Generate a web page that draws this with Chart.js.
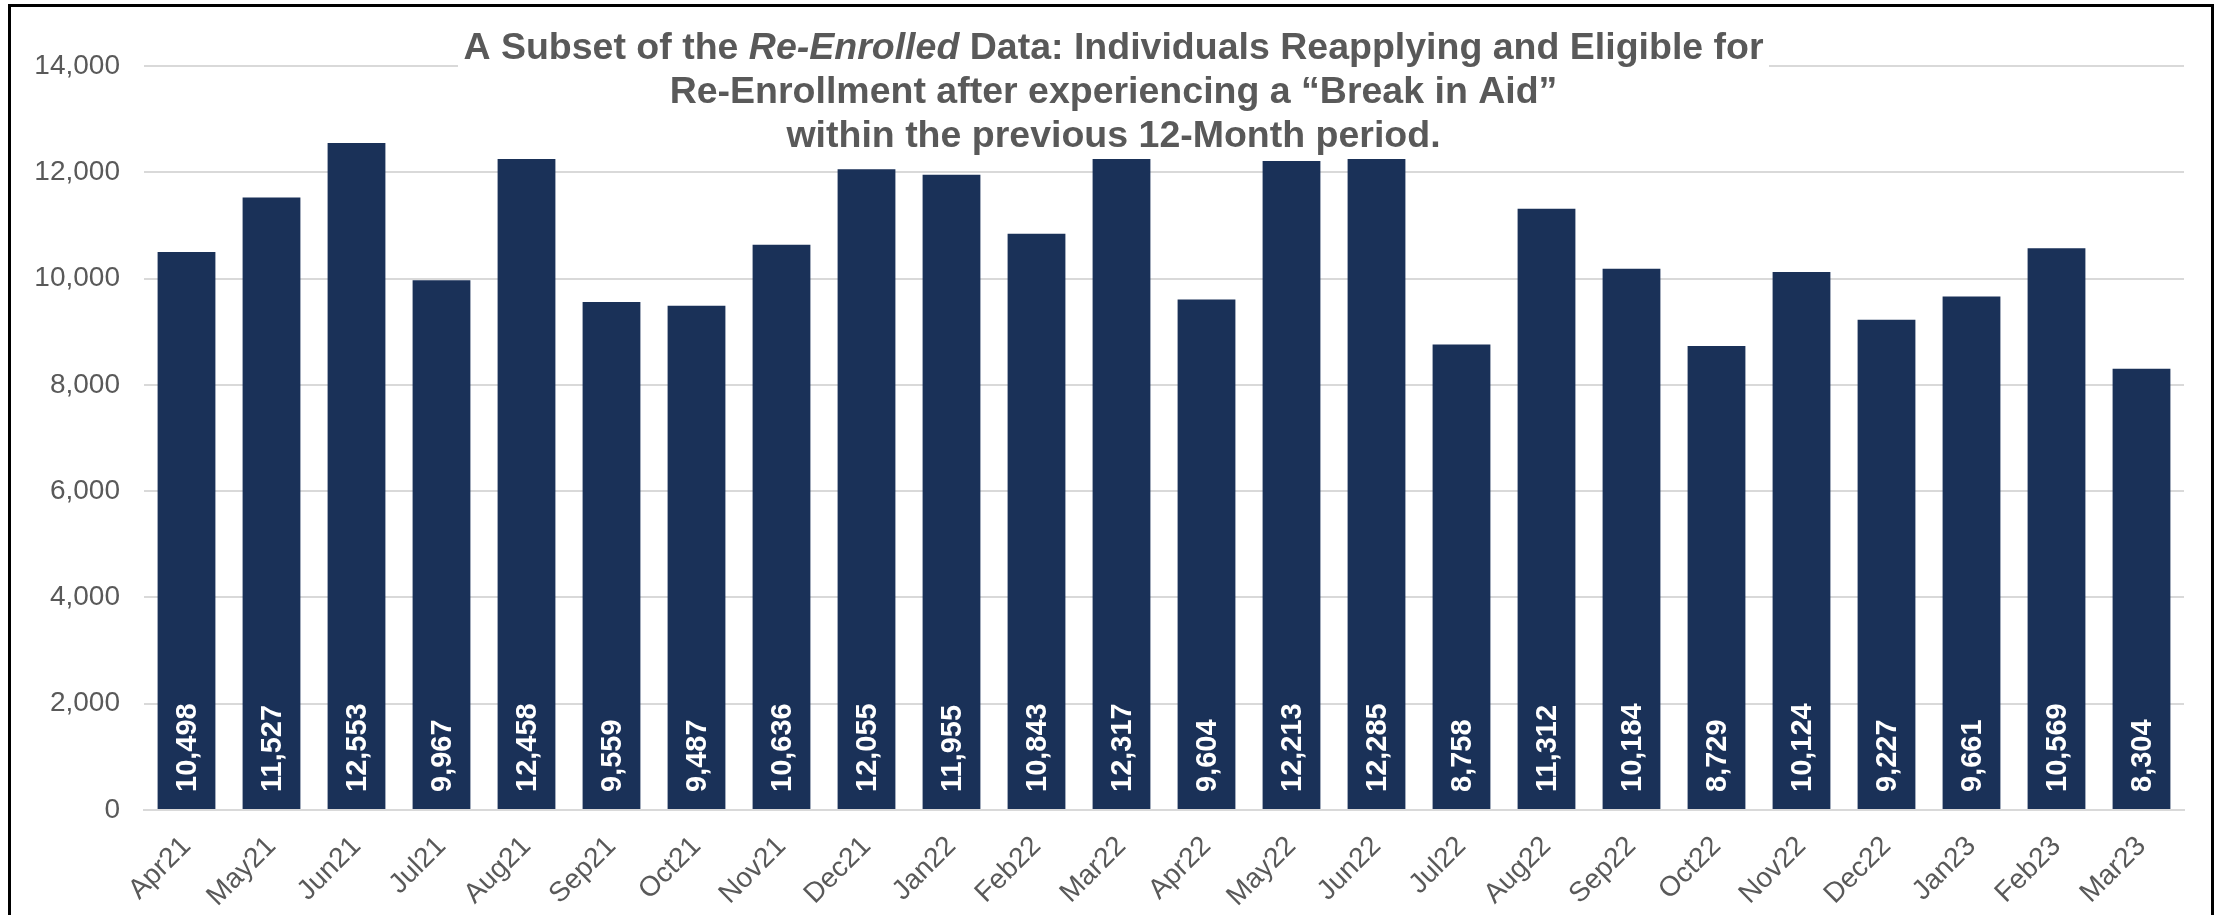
<!DOCTYPE html>
<html>
<head>
<meta charset="utf-8">
<script src="https://cdn.jsdelivr.net/npm/chart.js@4/dist/chart.umd.min.js"></script>
<style>
  html, body { margin: 0; padding: 0; background: #fff; overflow: hidden; }
  #wrap { position: relative; width: 2231px; height: 915px; }
  #frame {
    position: absolute; left: 8px; top: 4px; width: 2206px; height: 1000px;
    border: 3px solid #000; box-sizing: border-box; pointer-events: none;
  }
</style>
</head>
<body>
<div id="wrap">
  <canvas id="chart"></canvas>
  <div id="frame"></div>
</div>
<script>
const months = ['Apr21', 'May21', 'Jun21', 'Jul21', 'Aug21', 'Sep21', 'Oct21', 'Nov21',
  'Dec21', 'Jan22', 'Feb22', 'Mar22', 'Apr22', 'May22', 'Jun22', 'Jul22',
  'Aug22', 'Sep22', 'Oct22', 'Nov22', 'Dec22', 'Jan23', 'Feb23', 'Mar23'];

const reEnrolled = [10498, 11527, 12553, 9967, 12458, 9559, 9487, 10636,
  12055, 11955, 10843, 12317, 9604, 12213, 12285, 8758,
  11312, 10184, 8729, 10124, 9227, 9661, 10569, 8304];

const yMax = 14000;
const yStep = 2000;

const titleLines = [
  [['A Subset of the ', false], ['Re-Enrolled', true], [' Data: Individuals Reapplying and Eligible for', false]],
  [['Re-Enrollment after experiencing a \u201cBreak in Aid\u201d', false]],
  [['within the previous 12-Month period.', false]]
];

const FONT = '"Liberation Sans", Arial, sans-serif';
const GREY = '#595959';
const NAVY = '#1A3158';

// white value labels written upward from the bottom of each bar
const barLabels = {
  id: 'barLabels',
  afterDatasetsDraw(chart) {
    const ctx = chart.ctx;
    const meta = chart.getDatasetMeta(0);
    ctx.save();
    ctx.fillStyle = '#fff';
    ctx.font = 'bold 29px ' + FONT;
    ctx.textAlign = 'left';
    ctx.textBaseline = 'middle';
    meta.data.forEach(function(bar, i) {
      ctx.save();
      ctx.translate(bar.x + 1, bar.base - 17);
      ctx.rotate(-Math.PI / 2);
      ctx.fillText(reEnrolled[i].toLocaleString('en-US'), 0, 0);
      ctx.restore();
    });
    ctx.restore();
  }
};

// title sits in a white box over the top of the plot
const boxedTitle = {
  id: 'boxedTitle',
  afterDatasetsDraw(chart) {
    const ctx = chart.ctx;
    ctx.save();
    ctx.fillStyle = '#fff';
    ctx.fillRect(458, 16, 1311, 143);
    ctx.fillStyle = GREY;
    ctx.textBaseline = 'alphabetic';
    ctx.textAlign = 'left';
    const cx = chart.width / 2 - 2;
    const baselines = [59, 103, 147];
    titleLines.forEach(function(parts, li) {
      let total = 0;
      parts.forEach(function(p) {
        ctx.font = (p[1] ? 'italic ' : '') + 'bold 37.5px ' + FONT;
        total += ctx.measureText(p[0]).width;
      });
      let x = cx - total / 2;
      parts.forEach(function(p) {
        ctx.font = (p[1] ? 'italic ' : '') + 'bold 37.5px ' + FONT;
        ctx.fillText(p[0], x, baselines[li]);
        x += ctx.measureText(p[0]).width;
      });
    });
    ctx.restore();
  }
};

const ctx = document.getElementById('chart').getContext('2d');
new Chart(ctx, {
  type: 'bar',
  data: {
    labels: months,
    datasets: [{
      label: 'Re-Enrolled',
      data: reEnrolled,
      backgroundColor: NAVY,
      borderWidth: 0,
      barPercentage: 0.68,
      categoryPercentage: 1
    }]
  },
  options: {
    responsive: true,
    maintainAspectRatio: false,
    animation: false,
    layout: { padding: { top: 66, right: 47, left: 0, bottom: 0 } },
    plugins: {
      legend: { display: false },
      tooltip: { enabled: false },
      title: { display: false }
    },
    scales: {
      x: {
        grid: { display: false },
        border: { display: true, color: '#D9D9D9', width: 2 },
        ticks: {
          color: GREY,
          font: { family: FONT, size: 28 },
          minRotation: 45,
          maxRotation: 45,
          autoSkip: false,
          padding: 12
        },
        afterFit: function(scale) { scale.height = 105; }
      },
      y: {
        min: 0,
        max: yMax,
        border: { display: false },
        grid: { color: '#D9D9D9', lineWidth: 2, drawTicks: false },
        ticks: {
          stepSize: yStep,
          color: GREY,
          font: { family: FONT, size: 28 },
          padding: 24,
          callback: function(v) { return v.toLocaleString('en-US'); }
        },
        afterFit: function(scale) { scale.width = 144; }
      }
    }
  },
  plugins: [barLabels, boxedTitle]
});
</script>
</body>
</html>
